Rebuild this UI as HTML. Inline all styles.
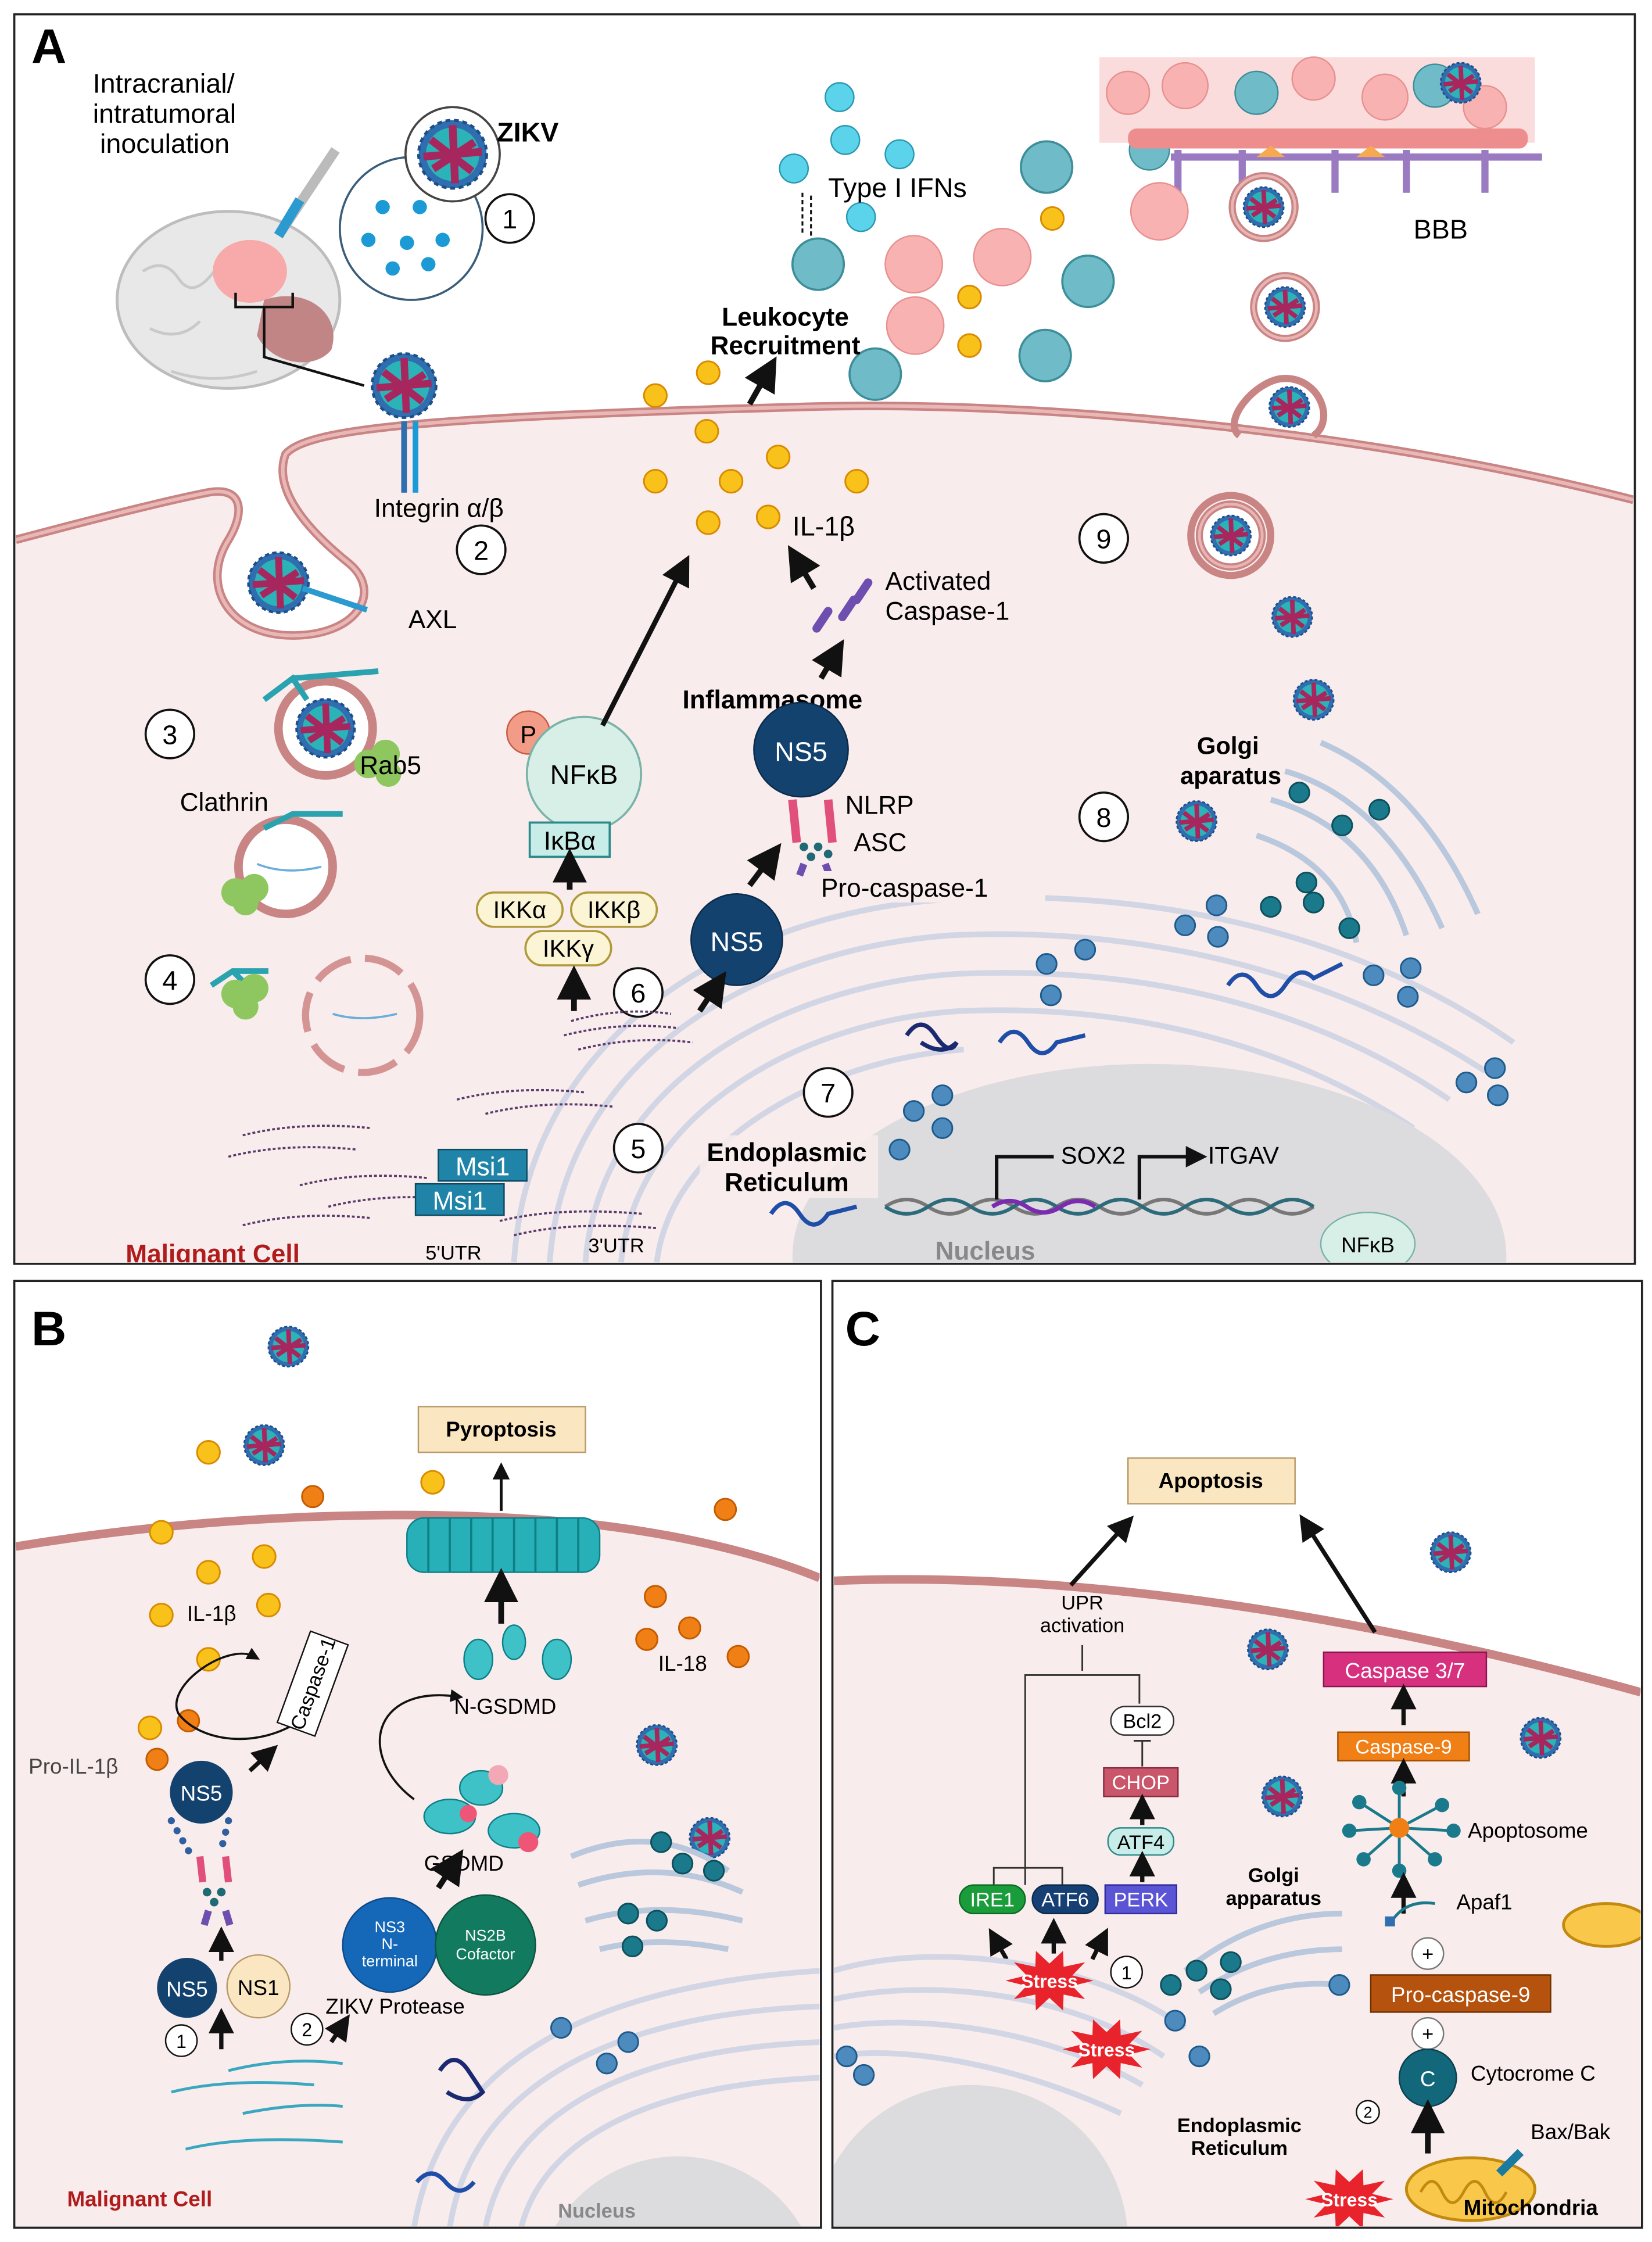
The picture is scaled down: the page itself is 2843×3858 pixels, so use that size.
<!DOCTYPE html>
<html><head><meta charset="utf-8">
<style>
html,body{margin:0;padding:0;background:#fff;overflow:hidden;width:2843px;height:3858px;}
svg{display:block;position:absolute;left:0;top:0;}
text{font-family:"Liberation Sans",sans-serif;}
</style></head><body>
<svg width="2843" height="3858" viewBox="0 0 1157 1570" preserveAspectRatio="none" xmlns="http://www.w3.org/2000/svg">
<defs>
<clipPath id="cA"><rect x="11" y="11" width="1133" height="873"/></clipPath>
<clipPath id="cB"><rect x="11" y="898" width="563" height="661"/></clipPath>
<clipPath id="cC"><rect x="584" y="898" width="565" height="661"/></clipPath>
<g id="v">
<circle r="14" fill="#2f6fb0"/>
<circle r="11" fill="#2bb3b8"/>
<path d="M-9,-6 L8,7 M-8,6 L9,-5 M0,-12 L1,12 M-12,1 L12,-1" stroke="#a8265e" stroke-width="3.2" fill="none"/>
<circle r="14" fill="none" stroke="#1f4e8a" stroke-width="1.2" stroke-dasharray="2 1.5"/>
</g>
<g id="ves"><circle r="22" fill="#fff" stroke="#c98484" stroke-width="5"/><circle r="22" fill="none" stroke="#e8b4b4" stroke-width="2"/></g>
<g id="y"><circle r="8" fill="#f8c21b" stroke="#d98a00" stroke-width="1.2"/></g>
<g id="o"><circle r="7.5" fill="#f07f16" stroke="#c35c00" stroke-width="1.2"/></g>
<g id="bd"><circle r="7" fill="#4d8bbf" stroke="#1e5b8c" stroke-width="1.2"/></g>
<g id="td"><circle r="7" fill="#1a7a8c" stroke="#0d4f5c" stroke-width="1.2"/></g>
<polygon id="star" fill="#e8232b" points="30.8,0 16,3.7 24.9,12.9 9.9,9.7 9.5,20.9 0,12 -9.5,20.9 -9.9,9.7 -24.9,12.9 -16,3.7 -30.8,0 -16,-3.7 -24.9,-12.9 -9.9,-9.7 -9.5,-20.9 0,-12 9.5,-20.9 9.9,-9.7 24.9,-12.9 16,-3.7"/>
<marker id="ar" markerWidth="6" markerHeight="6" refX="3" refY="3" orient="auto" markerUnits="strokeWidth"><path d="M0,0 L6,3 L0,6 z" fill="#111"/></marker>
</defs>

<!-- ================= PANEL A ================= -->
<g clip-path="url(#cA)">
<rect x="10" y="10" width="1135" height="875" fill="#fff"/>
<path d="M11,378 C60,365 110,352 145,345 C170,340 172,358 160,378 C140,410 160,445 205,445 C250,445 268,415 245,395 C220,375 190,345 200,318 C215,300 300,292 560,285 C720,280 950,300 1144,350 L1144,884 L11,884 Z" fill="#f9ecec"/>
<path d="M11,378 C60,365 110,352 145,345 C170,340 172,358 160,378 C140,410 160,445 205,445 C250,445 268,415 245,395 C220,375 190,345 200,318 C215,300 300,292 560,285 C720,280 950,300 1144,350" fill="none" stroke="#c98484" stroke-width="6"/>
<path d="M11,378 C60,365 110,352 145,345 C170,340 172,358 160,378 C140,410 160,445 205,445 C250,445 268,415 245,395 C220,375 190,345 200,318 C215,300 300,292 560,285 C720,280 950,300 1144,350" fill="none" stroke="#eab7b7" stroke-width="2.5"/>
<!-- BBB -->
<rect x="770" y="40" width="305" height="60" fill="#fbdcdc"/>
<g fill="#f8b2b2" stroke="#e89090"><circle cx="790" cy="65" r="15"/><circle cx="830" cy="60" r="16"/><circle cx="920" cy="55" r="15"/><circle cx="970" cy="68" r="16"/><circle cx="1040" cy="75" r="15"/></g>
<g fill="#6fbcc8" stroke="#3d8e9a"><circle cx="880" cy="65" r="15"/><circle cx="1005" cy="60" r="15"/><circle cx="805" cy="105" r="14"/></g>
<rect x="790" y="90" width="280" height="14" rx="6" fill="#ee8d8d"/>
<g stroke="#9a7ac0" stroke-width="5" fill="none">
<path d="M825,105 v30 M870,105 v30 M935,105 v30 M985,105 v30 M1040,105 v30 M820,110 h260"/></g>
<path d="M880,110 l10,-8 l10,8 M950,110 l10,-8 l10,8" fill="#f6a94e"/>
<use href="#v" x="1023" y="58"/>
<use href="#ves" x="885" y="145"/><use href="#v" x="885" y="145"/>
<use href="#ves" x="900" y="215"/><use href="#v" x="900" y="215"/>
<path d="M868,305 C855,295 880,265 900,265 C925,265 935,295 920,305" fill="none" stroke="#c98484" stroke-width="5"/>
<use href="#v" x="903" y="285"/>
<use href="#ves" x="862" y="375"/><circle cx="862" cy="375" r="28" fill="none" stroke="#c98484" stroke-width="5"/><use href="#v" x="862" y="375"/>
<use href="#v" x="905" y="432"/><use href="#v" x="920" y="490"/><use href="#v" x="838" y="575"/>
<text x="990" y="167" font-size="19">BBB</text>
<!-- immune cells -->
<g fill="#5bd3ea" stroke="#2a98b0"><circle cx="588" cy="68" r="10"/><circle cx="592" cy="98" r="10"/><circle cx="630" cy="108" r="10"/><circle cx="556" cy="118" r="10"/><circle cx="603" cy="152" r="10"/></g>
<g fill="#6fbcc8" stroke="#3d8e9a" stroke-width="1.5"><circle cx="573" cy="185" r="18"/><circle cx="733" cy="117" r="18"/><circle cx="762" cy="197" r="18"/><circle cx="613" cy="262" r="18"/><circle cx="732" cy="249" r="18"/></g>
<g fill="#f8b2b2" stroke="#e89090"><circle cx="640" cy="185" r="20"/><circle cx="702" cy="180" r="20"/><circle cx="641" cy="228" r="20"/><circle cx="812" cy="148" r="20"/></g>
<use href="#y" x="737" y="153"/><use href="#y" x="679" y="208"/><use href="#y" x="679" y="242"/>
<use href="#y" x="459" y="277"/><use href="#y" x="496" y="261"/><use href="#y" x="495" y="302"/><use href="#y" x="459" y="337"/><use href="#y" x="512" y="337"/><use href="#y" x="545" y="320"/><use href="#y" x="600" y="337"/><use href="#y" x="496" y="366"/><use href="#y" x="538" y="362"/>
<path d="M562,135 v30 M568,165 v-30" stroke="#111" stroke-dasharray="3 2" stroke-width="1.3"/>
<text x="580" y="138" font-size="19">Type I IFNs</text>
<text x="550" y="228" font-size="18" font-weight="bold" text-anchor="middle">Leukocyte</text>
<text x="550" y="248" font-size="18" font-weight="bold" text-anchor="middle">Recruitment</text>
<line x1="525" y1="283" x2="538" y2="260" stroke="#111" stroke-width="4" marker-end="url(#ar)"/>
<!-- top-left -->
<text x="65" y="65" font-size="19">Intracranial/</text>
<text x="65" y="86" font-size="19">intratumoral</text>
<text x="70" y="107" font-size="19">inoculation</text>
<ellipse cx="160" cy="210" rx="78" ry="62" fill="#e8e8e8" stroke="#bdbdbd" stroke-width="2"/>
<g fill="none" stroke="#c9c9c9" stroke-width="2"><path d="M100,190 q15,-10 25,5 t25,-5 M105,230 q20,10 35,-5 M200,240 q15,10 25,-5 M120,260 q30,10 60,0"/></g>
<ellipse cx="175" cy="190" rx="26" ry="22" fill="#f8a9a9"/>
<path d="M185,210 C215,200 240,220 232,245 C220,260 190,255 180,235 Z" fill="#c28585"/>
<path d="M165,205 v10 h40 v-10 M185,215 v35 l70,20" fill="none" stroke="#111" stroke-width="1.8"/>
<path d="M235,105 l-40,60" stroke="#bbb" stroke-width="7"/><path d="M210,140 l-15,25" stroke="#2b9ad0" stroke-width="7"/>
<circle cx="288" cy="160" r="50" fill="#fff" stroke="#3a5d7a" stroke-width="1.5"/>
<g fill="#1b9ad6"><circle cx="268" cy="145" r="5"/><circle cx="294" cy="145" r="5"/><circle cx="258" cy="168" r="5"/><circle cx="285" cy="170" r="5"/><circle cx="310" cy="168" r="5"/><circle cx="275" cy="188" r="5"/><circle cx="300" cy="185" r="5"/></g>
<circle cx="317" cy="108" r="33" fill="#fff" stroke="#444" stroke-width="1.5"/><g transform="translate(317 108) scale(1.7)"><use href="#v"/></g>
<text x="348" y="99" font-size="19" font-weight="bold">ZIKV</text>
<circle cx="357" cy="153" r="17" fill="#fff" stroke="#111" stroke-width="1.5"/><text x="357" y="160" font-size="19" text-anchor="middle">1</text>
<g transform="translate(283 270) scale(1.6)"><use href="#v"/></g>
<rect x="281" y="295" width="4" height="50" fill="#2f6fb0"/><rect x="289" y="295" width="4" height="50" fill="#1b9ad6"/>
<text x="262" y="362" font-size="18">Integrin α/β</text>
<circle cx="337" cy="385" r="17" fill="#fff" stroke="#111" stroke-width="1.5"/><text x="337" y="392" font-size="19" text-anchor="middle">2</text>
<g transform="translate(195 408) scale(1.5)"><use href="#v"/></g>
<path d="M212,412 l45,15" stroke="#2b9ad0" stroke-width="4"/>
<text x="286" y="440" font-size="18">AXL</text>
<circle cx="119" cy="514" r="17" fill="#fff" stroke="#111" stroke-width="1.5"/><text x="119" y="521" font-size="19" text-anchor="middle">3</text>
<circle cx="228" cy="510" r="33" fill="#fff" stroke="#c98484" stroke-width="6"/><g transform="translate(228 510) scale(1.45)"><use href="#v"/></g>
<path d="M185,490 l20,-15 l10,15 M205,475 l60,-5" stroke="#2aa3b0" stroke-width="4" fill="none"/>
<g fill="#8ec760"><circle cx="258" cy="535" r="10"/><circle cx="270" cy="528" r="10"/><circle cx="272" cy="542" r="9"/></g>
<text x="252" y="542" font-size="18">Rab5</text>
<text x="126" y="568" font-size="18">Clathrin</text>
<circle cx="200" cy="607" r="33" fill="#fff" stroke="#c98484" stroke-width="6"/>
<path d="M180,605 q20,8 45,2" stroke="#6aaedb" stroke-width="1.5" fill="none"/>
<path d="M185,580 l20,-10 l35,0" stroke="#2aa3b0" stroke-width="4" fill="none"/>
<g fill="#8ec760"><circle cx="165" cy="625" r="10"/><circle cx="178" cy="622" r="10"/><circle cx="172" cy="632" r="9"/></g>
<circle cx="119" cy="686" r="17" fill="#fff" stroke="#111" stroke-width="1.5"/><text x="119" y="693" font-size="19" text-anchor="middle">4</text>
<path d="M148,690 l15,-10 l25,0 M163,680 l10,10" stroke="#2aa3b0" stroke-width="4" fill="none"/>
<g fill="#8ec760"><circle cx="165" cy="696" r="10"/><circle cx="178" cy="692" r="10"/><circle cx="172" cy="705" r="9"/></g>
<circle cx="254" cy="711" r="40" fill="none" stroke="#d49494" stroke-width="5" stroke-dasharray="28 10"/>
<path d="M233,710 q20,6 45,0" stroke="#6aaedb" stroke-width="1.5" fill="none"/>
<!-- ER / nucleus -->
<g fill="none" stroke="#d2d6e4" stroke-width="4">
<path d="M360,884 C370,720 520,640 660,630 C820,620 960,660 1060,730"/>
<path d="M385,884 C395,740 530,665 665,655 C810,648 940,685 1040,750"/>
<path d="M410,884 C420,760 545,690 670,682 C800,676 920,705 1015,770"/>
<path d="M435,884 C445,780 560,715 672,708 C790,703 900,730 990,790"/>
<path d="M460,884 C470,800 575,742 675,735"/>
</g>
<ellipse cx="805" cy="880" rx="250" ry="135" fill="#dcdcdf"/>
<text x="690" y="882" font-size="18" font-weight="bold" fill="#888" text-anchor="middle">Nucleus</text>
<ellipse cx="958" cy="871" rx="33" ry="22" fill="#d8efe8" stroke="#7ab3a8"/><text x="958" y="877" font-size="15" text-anchor="middle">NFκB</text>
<path d="M620,845 q15,-10 30,0 t30,0 t30,0 t30,0 t30,0 t30,0 t30,0 t30,0 t30,0 t30,0" fill="none" stroke="#777" stroke-width="2.5"/>
<path d="M620,845 q15,10 30,0 t30,0 t30,0 t30,0 t30,0 t30,0 t30,0 t30,0 t30,0 t30,0" fill="none" stroke="#2d6a7a" stroke-width="2.5"/>
<path d="M695,845 q12,-8 24,0 t24,0 t24,0" fill="none" stroke="#7a2bb0" stroke-width="3"/>
<path d="M698,840 v-30 h40 M798,840 v-30 h40" fill="none" stroke="#111" stroke-width="2.5" marker-end="url(#ar)"/>
<text x="743" y="815" font-size="17">SOX2</text><text x="846" y="815" font-size="17">ITGAV</text>
<!-- NFkB pathway -->
<circle cx="370" cy="513" r="15" fill="#f29b86" stroke="#c45c45"/><text x="370" y="520" font-size="17" text-anchor="middle">P</text>
<circle cx="409" cy="542" r="40" fill="#d8efe8" stroke="#7ab3a8" stroke-width="1.5"/><text x="409" y="549" font-size="19" text-anchor="middle">NFκB</text>
<rect x="371" y="576" width="56" height="24" fill="#c8ece8" stroke="#2d8a8a" stroke-width="1.5"/><text x="399" y="595" font-size="18" text-anchor="middle">IκBα</text>
<g fill="#fbf5d6" stroke="#b09a3c" stroke-width="1.5"><rect x="334" y="625" width="60" height="24" rx="12"/><rect x="400" y="625" width="60" height="24" rx="12"/><rect x="368" y="652" width="60" height="24" rx="12"/></g>
<text x="364" y="643" font-size="17" text-anchor="middle">IKKα</text><text x="430" y="643" font-size="17" text-anchor="middle">IKKβ</text><text x="398" y="670" font-size="17" text-anchor="middle">IKKγ</text>
<line x1="399" y1="623" x2="399" y2="606" stroke="#111" stroke-width="4" marker-end="url(#ar)"/>
<line x1="402" y1="708" x2="402" y2="688" stroke="#111" stroke-width="4" marker-end="url(#ar)"/>
<line x1="422" y1="508" x2="478" y2="398" stroke="#111" stroke-width="3.5" marker-end="url(#ar)"/>
<circle cx="447" cy="695" r="17" fill="#fff" stroke="#111" stroke-width="1.5"/><text x="447" y="702" font-size="19" text-anchor="middle">6</text>
<!-- inflammasome -->
<text x="555" y="375" font-size="19">IL-1β</text>
<line x1="570" y1="412" x2="558" y2="392" stroke="#111" stroke-width="4" marker-end="url(#ar)"/>
<g stroke="#6e4fb0" stroke-width="6" stroke-linecap="round"><path d="M572,440 l8,-12 M590,432 l8,-12 M600,420 l8,-12"/></g>
<text x="620" y="413" font-size="18">Activated</text><text x="620" y="434" font-size="18">Caspase-1</text>
<line x1="575" y1="475" x2="585" y2="458" stroke="#111" stroke-width="4" marker-end="url(#ar)"/>
<text x="478" y="496" font-size="18" font-weight="bold">Inflammasome</text>
<circle cx="561" cy="525" r="33" fill="#13426f" stroke="#0a2b4a"/><text x="561" y="533" font-size="19" fill="#fff" text-anchor="middle">NS5</text>
<path d="M555,560 l3,30 M580,560 l3,30" stroke="#e0507a" stroke-width="6"/>
<g fill="#1f6a75"><circle cx="563" cy="593" r="3"/><circle cx="573" cy="593" r="3"/><circle cx="568" cy="600" r="3"/><circle cx="580" cy="598" r="3"/></g>
<path d="M563,605 l-3,8 M578,605 l3,8" stroke="#6e4fb0" stroke-width="5"/>
<rect x="572" y="610" width="160" height="22" fill="#f9ecec"/>
<text x="592" y="570" font-size="18">NLRP</text><text x="598" y="596" font-size="18">ASC</text><text x="575" y="628" font-size="18">Pro-caspase-1</text>
<circle cx="516" cy="658" r="32" fill="#13426f" stroke="#0a2b4a"/><text x="516" y="666" font-size="19" fill="#fff" text-anchor="middle">NS5</text>
<line x1="490" y1="708" x2="502" y2="690" stroke="#111" stroke-width="4" marker-end="url(#ar)"/>
<line x1="525" y1="620" x2="540" y2="600" stroke="#111" stroke-width="4" marker-end="url(#ar)"/>
<rect x="490" y="795" width="125" height="44" fill="#f9ecec" opacity="0.85"/>
<text x="551" y="813" font-size="18" font-weight="bold" text-anchor="middle">Endoplasmic</text><text x="551" y="834" font-size="18" font-weight="bold" text-anchor="middle">Reticulum</text>
<circle cx="447" cy="804" r="17" fill="#fff" stroke="#111" stroke-width="1.5"/><text x="447" y="811" font-size="19" text-anchor="middle">5</text>
<circle cx="580" cy="765" r="17" fill="#fff" stroke="#111" stroke-width="1.5"/><text x="580" y="772" font-size="19" text-anchor="middle">7</text>
<circle cx="773" cy="572" r="17" fill="#fff" stroke="#111" stroke-width="1.5"/><text x="773" y="579" font-size="19" text-anchor="middle">8</text>
<circle cx="773" cy="377" r="17" fill="#fff" stroke="#111" stroke-width="1.5"/><text x="773" y="384" font-size="19" text-anchor="middle">9</text>
<g fill="none" stroke="#5a3a6a" stroke-width="1.5" stroke-dasharray="2 1.5">
<path d="M400,715 q35,-10 70,-5 M395,725 q40,-10 80,-5 M405,735 q40,-10 80,-5 M320,770 q40,-10 90,-5 M340,780 q40,-10 90,-5 M170,795 q40,-10 90,-5 M160,810 q40,-10 90,-5 M210,830 q40,-10 90,-5 M230,845 q40,-10 90,-5 M170,858 q40,-10 90,-5 M350,855 q40,-10 100,-5 M360,865 q40,-10 100,-5"/></g>
<rect x="307" y="805" width="62" height="22" fill="#1f84a8" stroke="#0c4a60"/><text x="338" y="823" font-size="18" fill="#fff" text-anchor="middle">Msi1</text>
<rect x="291" y="829" width="62" height="22" fill="#1f84a8" stroke="#0c4a60"/><text x="322" y="847" font-size="18" fill="#fff" text-anchor="middle">Msi1</text>
<text x="298" y="882" font-size="14">5'UTR</text><text x="412" y="877" font-size="14">3'UTR</text>
<text x="88" y="884" font-size="18" font-weight="bold" fill="#b01c1c">Malignant Cell</text>
<!-- golgi -->
<text x="860" y="528" font-size="17" font-weight="bold" text-anchor="middle">Golgi</text><text x="862" y="549" font-size="17" font-weight="bold" text-anchor="middle">aparatus</text>
<g fill="none" stroke="#b9c8dc" stroke-width="4">
<path d="M900,540 q70,20 110,110"/><path d="M890,560 q70,20 95,95"/><path d="M880,585 q60,20 70,75"/><path d="M925,520 q70,30 110,120"/></g>
<use href="#td" x="910" y="555"/><use href="#td" x="940" y="578"/><use href="#td" x="966" y="567"/><use href="#td" x="890" y="635"/><use href="#td" x="920" y="632"/><use href="#td" x="915" y="618"/><use href="#td" x="945" y="650"/>
<use href="#bd" x="830" y="648"/><use href="#bd" x="852" y="634"/><use href="#bd" x="853" y="656"/><use href="#bd" x="760" y="665"/><use href="#bd" x="733" y="675"/><use href="#bd" x="736" y="697"/><use href="#bd" x="962" y="683"/><use href="#bd" x="988" y="678"/><use href="#bd" x="986" y="698"/><use href="#bd" x="1047" y="748"/><use href="#bd" x="1027" y="758"/><use href="#bd" x="1049" y="767"/><use href="#bd" x="660" y="767"/><use href="#bd" x="640" y="778"/><use href="#bd" x="660" y="790"/><use href="#bd" x="630" y="805"/>
<path d="M860,690 q10,-15 20,0 t20,0 t20,-5 l20,-10" stroke="#1f4ea8" stroke-width="3" fill="none"/>
<path d="M700,730 q10,-15 20,0 t20,0 l20,-5" stroke="#1f4ea8" stroke-width="3" fill="none"/>
<path d="M540,850 q10,-15 20,0 t20,0 l20,-5" stroke="#1f4ea8" stroke-width="3" fill="none"/>
<path d="M635,725 q10,-15 20,0 t15,5 q-10,10 -25,0" stroke="#1b2a70" stroke-width="3" fill="none"/>
<text x="22" y="44" font-size="34" font-weight="bold">A</text>
</g>
<rect x="10" y="10" width="1135" height="875" fill="none" stroke="#222" stroke-width="1.5"/>

<!-- ================= PANEL B ================= -->
<g clip-path="url(#cB)">
<rect x="10" y="897" width="565" height="663" fill="#fff"/>
<path d="M11,1083 C150,1060 300,1055 420,1068 C500,1078 550,1095 574,1105 L574,1559 L11,1559 Z" fill="#f9ecec"/>
<path d="M11,1083 C150,1060 300,1055 420,1068 C500,1078 550,1095 574,1105" fill="none" stroke="#c98484" stroke-width="6"/>
<text x="22" y="942" font-size="34" font-weight="bold">B</text>
<use href="#v" x="202" y="943"/><use href="#v" x="185" y="1012"/><use href="#v" x="460" y="1222"/><use href="#v" x="497" y="1287"/>
<use href="#y" x="146" y="1017"/><use href="#y" x="303" y="1038"/><use href="#y" x="113" y="1073"/><use href="#y" x="146" y="1101"/><use href="#y" x="185" y="1090"/><use href="#y" x="113" y="1131"/><use href="#y" x="188" y="1124"/><use href="#y" x="146" y="1162"/><use href="#y" x="105" y="1210"/>
<use href="#o" x="219" y="1048"/><use href="#o" x="508" y="1057"/><use href="#o" x="459" y="1118"/><use href="#o" x="483" y="1140"/><use href="#o" x="453" y="1148"/><use href="#o" x="517" y="1160"/><use href="#o" x="132" y="1205"/><use href="#o" x="110" y="1232"/>
<text x="131" y="1135" font-size="15">IL-1β</text><text x="461" y="1170" font-size="15">IL-18</text><text x="20" y="1242" font-size="15" fill="#444">Pro-IL-1β</text>
<rect x="293" y="985" width="117" height="32" fill="#fbe6c2" stroke="#b89a6a"/><text x="351" y="1006" font-size="15" font-weight="bold" text-anchor="middle">Pyroptosis</text>
<line x1="351" y1="1058" x2="351" y2="1030" stroke="#111" stroke-width="2" marker-end="url(#ar)"/>
<rect x="285" y="1063" width="135" height="38" rx="12" fill="#27b0b8" stroke="#0e7f87"/>
<g stroke="#0e7f87" stroke-width="1.5"><path d="M300,1063 v38 M315,1063 v38 M330,1063 v38 M345,1063 v38 M360,1063 v38 M375,1063 v38 M390,1063 v38 M405,1063 v38"/></g>
<line x1="351" y1="1137" x2="351" y2="1110" stroke="#111" stroke-width="4" marker-end="url(#ar)"/>
<g fill="#3ec1c7" stroke="#0e7f87"><ellipse cx="335" cy="1162" rx="10" ry="14"/><ellipse cx="390" cy="1162" rx="10" ry="14"/><ellipse cx="360" cy="1150" rx="8" ry="12"/></g>
<text x="318" y="1200" font-size="15">N-GSDMD</text>
<path d="M290,1260 C250,1230 260,1180 320,1188" fill="none" stroke="#111" stroke-width="1.5" marker-end="url(#ar)"/>
<g fill="#3ec1c7" stroke="#0e7f87"><ellipse cx="315" cy="1272" rx="18" ry="12"/><ellipse cx="360" cy="1282" rx="18" ry="12"/><ellipse cx="337" cy="1252" rx="15" ry="12"/></g>
<g fill="#ee5577"><circle cx="328" cy="1270" r="6"/><circle cx="370" cy="1290" r="7"/></g><circle cx="349" cy="1243" r="7" fill="#f3a8b6"/>
<text x="297" y="1310" font-size="15">GSDMD</text>
<circle cx="273" cy="1362" r="33" fill="#1567b8" stroke="#0c4a88"/><text x="273" y="1353" font-size="11" fill="#fff" text-anchor="middle">NS3</text><text x="273" y="1365" font-size="11" fill="#fff" text-anchor="middle">N-</text><text x="273" y="1377" font-size="11" fill="#fff" text-anchor="middle">terminal</text>
<circle cx="340" cy="1362" r="35" fill="#127a5e" stroke="#0b5540"/><text x="340" y="1359" font-size="11" fill="#fff" text-anchor="middle">NS2B</text><text x="340" y="1372" font-size="11" fill="#fff" text-anchor="middle">Cofactor</text>
<line x1="307" y1="1322" x2="318" y2="1305" stroke="#111" stroke-width="4" marker-end="url(#ar)"/>
<text x="228" y="1410" font-size="15">ZIKV Protease</text>
<circle cx="215" cy="1421" r="11" fill="#fff" stroke="#111"/><text x="215" y="1426" font-size="13" text-anchor="middle">2</text>
<line x1="232" y1="1430" x2="240" y2="1418" stroke="#111" stroke-width="3" marker-end="url(#ar)"/>
<circle cx="141" cy="1255" r="22" fill="#13426f"/><text x="141" y="1261" font-size="15" fill="#fff" text-anchor="middle">NS5</text>
<g fill="#2f5fa0"><circle cx="120" cy="1275" r="2.5"/><circle cx="124" cy="1282" r="2.5"/><circle cx="128" cy="1289" r="2.5"/><circle cx="132" cy="1296" r="2.5"/><circle cx="160" cy="1275" r="2.5"/><circle cx="158" cy="1283" r="2.5"/><circle cx="156" cy="1291" r="2.5"/></g>
<path d="M140,1300 l2,18 M158,1300 l2,18" stroke="#e0507a" stroke-width="5"/>
<g fill="#1f6a75"><circle cx="145" cy="1325" r="3"/><circle cx="155" cy="1325" r="3"/><circle cx="150" cy="1332" r="3"/></g>
<path d="M146,1338 l-3,10 M158,1338 l3,10" stroke="#6e4fb0" stroke-width="5"/>
<line x1="155" y1="1373" x2="155" y2="1358" stroke="#111" stroke-width="3" marker-end="url(#ar)"/>
<line x1="175" y1="1240" x2="188" y2="1228" stroke="#111" stroke-width="3" marker-end="url(#ar)"/>
<path d="M210,1205 C180,1225 140,1220 125,1200 C115,1180 160,1150 178,1160" fill="none" stroke="#111" stroke-width="1.5" marker-end="url(#ar)"/>
<rect x="205" y="1145" width="28" height="68" fill="#fff" stroke="#111" transform="rotate(20 219 1179)"/><text x="219" y="1184" font-size="14" text-anchor="middle" transform="rotate(-70 219 1179)">Caspase-1</text>
<circle cx="131" cy="1392" r="21" fill="#13426f"/><text x="131" y="1398" font-size="15" fill="#fff" text-anchor="middle">NS5</text>
<circle cx="181" cy="1391" r="22" fill="#fbe6c2" stroke="#b89a6a"/><text x="181" y="1397" font-size="15" text-anchor="middle">NS1</text>
<circle cx="127" cy="1429" r="11" fill="#fff" stroke="#111"/><text x="127" y="1434" font-size="13" text-anchor="middle">1</text>
<line x1="155" y1="1435" x2="155" y2="1415" stroke="#111" stroke-width="3" marker-end="url(#ar)"/>
<g stroke="#3aa7c0" stroke-width="2" fill="none"><path d="M120,1465 q40,-10 100,-5 M160,1450 q40,-10 80,-5 M170,1480 q40,-8 70,-5 M130,1505 q40,-10 110,-5"/></g>
<g fill="none" stroke="#d2d6e4" stroke-width="4"><path d="M290,1560 C310,1440 420,1390 575,1380"/><path d="M315,1560 C330,1460 430,1410 575,1405"/><path d="M340,1560 C355,1480 440,1435 575,1430"/><path d="M365,1560 C380,1500 450,1460 575,1455"/></g>
<circle cx="475" cy="1610" r="100" fill="#dcdcdf"/>
<text x="418" y="1553" font-size="14" font-weight="bold" fill="#888" text-anchor="middle">Nucleus</text>
<text x="47" y="1545" font-size="15" font-weight="bold" fill="#b01c1c">Malignant Cell</text>
<g fill="none" stroke="#b9c8dc" stroke-width="4"><path d="M400,1300 q60,-25 110,10"/><path d="M405,1320 q60,-20 115,5"/><path d="M410,1345 q50,-15 110,0"/><path d="M420,1365 q40,-10 90,0"/></g>
<use href="#td" x="463" y="1290"/><use href="#td" x="478" y="1305"/><use href="#td" x="500" y="1310"/><use href="#td" x="440" y="1340"/><use href="#td" x="460" y="1345"/><use href="#td" x="443" y="1363"/>
<use href="#bd" x="393" y="1420"/><use href="#bd" x="425" y="1445"/><use href="#bd" x="440" y="1430"/>
<path d="M308,1450 q10,-15 20,0 t10,15 q-10,10 -25,0" stroke="#1b2a70" stroke-width="3" fill="none"/>
<path d="M292,1528 q10,-12 20,0 t20,0" stroke="#1f4ea8" stroke-width="3" fill="none"/>
</g>
<rect x="10" y="897" width="565" height="663" fill="none" stroke="#222" stroke-width="1.5"/>

<!-- ================= PANEL C ================= -->
<g clip-path="url(#cC)">
<rect x="583" y="897" width="567" height="663" fill="#fff"/>
<path d="M584,1107 C750,1100 950,1130 1149,1185 L1149,1559 L584,1559 Z" fill="#f9ecec"/>
<path d="M584,1107 C750,1100 950,1130 1149,1185" fill="none" stroke="#c98484" stroke-width="6"/>
<text x="592" y="942" font-size="34" font-weight="bold">C</text>
<rect x="790" y="1021" width="117" height="32" fill="#fbe6c2" stroke="#b89a6a"/><text x="848" y="1042" font-size="15" font-weight="bold" text-anchor="middle">Apoptosis</text>
<line x1="750" y1="1110" x2="788" y2="1068" stroke="#111" stroke-width="3" marker-end="url(#ar)"/>
<line x1="963" y1="1143" x2="915" y2="1068" stroke="#111" stroke-width="3" marker-end="url(#ar)"/>
<text x="758" y="1127" font-size="14" text-anchor="middle">UPR</text><text x="758" y="1143" font-size="14" text-anchor="middle">activation</text>
<path d="M758,1170 v-18 M718,1320 v-147 h80 v20 M696,1320 v-12 h48 v12" fill="none" stroke="#333" stroke-width="1.2"/>
<rect x="778" y="1195" width="44" height="20" rx="10" fill="#fff" stroke="#333"/><text x="800" y="1210" font-size="14" text-anchor="middle">Bcl2</text>
<path d="M800,1237 v-18 M794,1219 h12" stroke="#333" stroke-width="1.2"/>
<rect x="773" y="1238" width="52" height="20" fill="#c9566a" stroke="#8a2c3e"/><text x="799" y="1253" font-size="14" fill="#fff" text-anchor="middle">CHOP</text>
<line x1="800" y1="1278" x2="800" y2="1265" stroke="#111" stroke-width="3" marker-end="url(#ar)"/>
<rect x="776" y="1280" width="46" height="19" rx="9" fill="#c8ece8" stroke="#2d8a8a"/><text x="799" y="1295" font-size="14" text-anchor="middle">ATF4</text>
<line x1="800" y1="1318" x2="800" y2="1305" stroke="#111" stroke-width="3" marker-end="url(#ar)"/>
<rect x="774" y="1320" width="50" height="20" fill="#5b55d6" stroke="#312ca0"/><text x="799" y="1335" font-size="14" fill="#fff" text-anchor="middle">PERK</text>
<rect x="672" y="1320" width="46" height="20" rx="10" fill="#1a9c3a" stroke="#0c6a24"/><text x="695" y="1335" font-size="14" fill="#fff" text-anchor="middle">IRE1</text>
<rect x="723" y="1320" width="46" height="20" rx="10" fill="#163f73" stroke="#0a2b4a"/><text x="746" y="1335" font-size="14" fill="#fff" text-anchor="middle">ATF6</text>
<line x1="705" y1="1372" x2="697" y2="1358" stroke="#111" stroke-width="3" marker-end="url(#ar)"/>
<line x1="738" y1="1368" x2="738" y2="1352" stroke="#111" stroke-width="3" marker-end="url(#ar)"/>
<line x1="765" y1="1372" x2="772" y2="1358" stroke="#111" stroke-width="3" marker-end="url(#ar)"/>
<g fill="none" stroke="#d2d6e4" stroke-width="4"><path d="M584,1380 C650,1360 760,1370 830,1420"/><path d="M584,1400 C650,1385 750,1395 815,1440"/><path d="M584,1420 C640,1410 730,1420 800,1460"/><path d="M584,1440 C630,1432 710,1445 785,1480"/></g>
<circle cx="680" cy="1570" r="110" fill="#dcdcdf"/>
<use href="#star" x="735" y="1387"/>
<text x="735" y="1392" font-size="13" font-weight="bold" fill="#fff" text-anchor="middle">Stress</text>
<use href="#star" x="775" y="1435"/>
<text x="775" y="1440" font-size="13" font-weight="bold" fill="#fff" text-anchor="middle">Stress</text>
<use href="#star" x="945" y="1540"/>
<text x="945" y="1545" font-size="13" font-weight="bold" fill="#fff" text-anchor="middle">Stress</text>
<circle cx="789" cy="1381" r="11" fill="#fff" stroke="#111"/><text x="789" y="1386" font-size="13" text-anchor="middle">1</text>
<text x="868" y="1493" font-size="14" font-weight="bold" text-anchor="middle">Endoplasmic</text><text x="868" y="1509" font-size="14" font-weight="bold" text-anchor="middle">Reticulum</text>
<text x="892" y="1318" font-size="14" font-weight="bold" text-anchor="middle">Golgi</text><text x="892" y="1334" font-size="14" font-weight="bold" text-anchor="middle">apparatus</text>
<g fill="none" stroke="#b9c8dc" stroke-width="4"><path d="M830,1380 q50,-40 110,-40"/><path d="M840,1395 q45,-30 100,-30"/><path d="M850,1410 q40,-25 90,-20"/></g>
<use href="#td" x="820" y="1390"/><use href="#td" x="838" y="1380"/><use href="#td" x="855" y="1393"/><use href="#td" x="862" y="1374"/>
<use href="#bd" x="593" y="1440"/><use href="#bd" x="605" y="1453"/><use href="#bd" x="823" y="1415"/><use href="#bd" x="840" y="1440"/><use href="#bd" x="938" y="1390"/>
<use href="#v" x="1016" y="1087"/><use href="#v" x="888" y="1155"/><use href="#v" x="1079" y="1217"/><use href="#v" x="898" y="1258"/>
<rect x="927" y="1157" width="114" height="24" fill="#d6307f" stroke="#8a1450"/><text x="984" y="1175" font-size="15" fill="#fff" text-anchor="middle">Caspase 3/7</text>
<line x1="983" y1="1208" x2="983" y2="1188" stroke="#111" stroke-width="3" marker-end="url(#ar)"/>
<rect x="937" y="1213" width="92" height="20" fill="#f07f16" stroke="#a44e00"/><text x="983" y="1228" font-size="14" fill="#fff" text-anchor="middle">Caspase-9</text>
<line x1="983" y1="1258" x2="983" y2="1240" stroke="#111" stroke-width="3" marker-end="url(#ar)"/>
<g stroke="#1a7a8c" stroke-width="2"><path d="M980,1280 l-28,-18 M980,1280 l-35,2 M980,1280 l-25,22 M980,1280 l0,-28 M980,1280 l30,-16 M980,1280 l38,2 M980,1280 l25,22 M980,1280 l0,30"/></g>
<g fill="#1a7a8c"><circle cx="952" cy="1262" r="5"/><circle cx="945" cy="1282" r="5"/><circle cx="955" cy="1302" r="5"/><circle cx="980" cy="1252" r="5"/><circle cx="1010" cy="1264" r="5"/><circle cx="1018" cy="1282" r="5"/><circle cx="1005" cy="1302" r="5"/><circle cx="980" cy="1310" r="5"/></g>
<circle cx="980" cy="1280" r="7" fill="#f07f16"/>
<text x="1028" y="1287" font-size="15">Apoptosome</text>
<line x1="983" y1="1340" x2="983" y2="1320" stroke="#111" stroke-width="3" marker-end="url(#ar)"/>
<path d="M975,1345 q10,-15 30,-12" stroke="#1a7a8c" stroke-width="2" fill="none"/><rect x="970" y="1342" width="7" height="7" fill="#2f6fb0"/>
<text x="1020" y="1337" font-size="15">Apaf1</text>
<circle cx="1000" cy="1368" r="11" fill="#fff" stroke="#777"/><text x="1000" y="1373" font-size="14" text-anchor="middle">+</text>
<rect x="960" y="1383" width="126" height="26" fill="#b5520d" stroke="#6e3000"/><text x="1023" y="1402" font-size="15" fill="#fff" text-anchor="middle">Pro-caspase-9</text>
<circle cx="1000" cy="1424" r="11" fill="#fff" stroke="#777"/><text x="1000" y="1429" font-size="14" text-anchor="middle">+</text>
<circle cx="1000" cy="1455" r="20" fill="#12677a" stroke="#0a4050"/><text x="1000" y="1461" font-size="15" fill="#fff" text-anchor="middle">C</text>
<text x="1030" y="1457" font-size="15">Cytocrome C</text>
<circle cx="958" cy="1479" r="8" fill="#fff" stroke="#111"/><text x="958" y="1483" font-size="11" text-anchor="middle">2</text>
<line x1="1000" y1="1508" x2="1000" y2="1482" stroke="#111" stroke-width="4" marker-end="url(#ar)"/>
<ellipse cx="1030" cy="1533" rx="45" ry="22" fill="#f9c84a" stroke="#c28a10" stroke-width="2"/>
<path d="M995,1535 q8,-15 15,0 t15,0 t15,0 t15,0" stroke="#c28a10" stroke-width="2" fill="none"/>
<path d="M1050,1522 l15,-15" stroke="#1a7aa0" stroke-width="6"/>
<text x="1072" y="1498" font-size="15">Bax/Bak</text>
<text x="1025" y="1551" font-size="15" font-weight="bold">Mitochondria</text>
<ellipse cx="1125" cy="1348" rx="30" ry="15" fill="#f9c84a" stroke="#c28a10" stroke-width="2"/>
</g>
<rect x="583" y="897" width="567" height="663" fill="none" stroke="#222" stroke-width="1.5"/>
</svg>
</body></html>
